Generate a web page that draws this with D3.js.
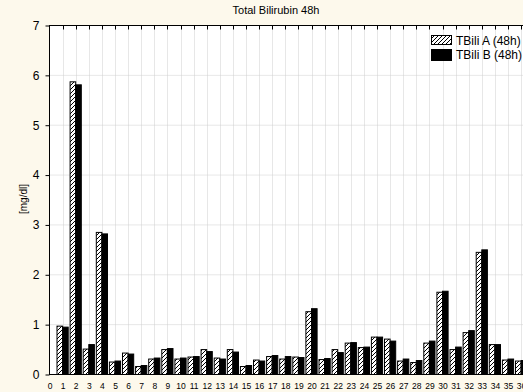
<!DOCTYPE html>
<html>
<head>
<meta charset="utf-8">
<script src="https://cdn.jsdelivr.net/npm/d3@7"></script>
<style>
  body { margin: 0; background: #fdf9ec; overflow: hidden; }
  text { font-family: "Liberation Sans", Arial, sans-serif; }
</style>
</head>
<body>
<div id="chart"></div>
<script>
// datos
const categorias = d3.range(1, 37);
const tbiliA = [0.97, 5.87, 0.51, 2.85, 0.25, 0.43, 0.16, 0.31, 0.50, 0.31,
  0.35, 0.50, 0.33, 0.50, 0.16, 0.29, 0.36, 0.31, 0.35, 1.26,
  0.30, 0.50, 0.63, 0.54, 0.75, 0.71, 0.27, 0.24, 0.63, 1.65,
  0.50, 0.84, 2.45, 0.60, 0.29, 0.27];
const tbiliB = [0.95, 5.81, 0.60, 2.82, 0.27, 0.41, 0.18, 0.33, 0.52, 0.33,
  0.36, 0.46, 0.31, 0.45, 0.18, 0.27, 0.38, 0.36, 0.34, 1.32,
  0.32, 0.44, 0.64, 0.55, 0.75, 0.67, 0.31, 0.28, 0.67, 1.67,
  0.55, 0.88, 2.50, 0.60, 0.31, 0.28];
const yTicks = d3.range(0, 8);
const xTicks = d3.range(0, 37);
const series = ["TBili A (48h)", "TBili B (48h)"];

const W = 523, H = 392;
const margin = { top: 25, left: 49.5, bottom: 17 };
const paso = 13.1;
const plotRight = margin.left + 37 * paso;

const svg = d3.select("#chart").append("svg")
  .attr("width", W).attr("height", H);

// rayado para la serie A
const defs = svg.append("defs");
defs.append("pattern")
  .attr("id", "hatch")
  .attr("patternUnits", "userSpaceOnUse")
  .attr("width", 4).attr("height", 4)
  .call(p => p.append("rect").attr("width", 4).attr("height", 4).attr("fill", "#fff"))
  .append("path")
  .attr("d", "M-1,1 l2,-2 M0,4 l4,-4 M3,5 l2,-2")
  .attr("stroke", "#000").attr("stroke-width", 1);

const x = d3.scaleLinear().domain([0, 37]).range([margin.left, plotRight]);
const y = d3.scaleLinear().domain([0, 7]).range([H - margin.bottom - 0.5, margin.top + 0.5]);

// area blanca del grafico
svg.append("rect")
  .attr("x", x(0)).attr("y", y(7))
  .attr("width", x(37) - x(0)).attr("height", y(0) - y(7))
  .attr("fill", "#fff");

// rejilla
svg.append("g").selectAll("line").data(xTicks.slice(1).concat([37]))
  .join("line")
  .attr("x1", d => Math.round(x(d)) + 0.5).attr("x2", d => Math.round(x(d)) + 0.5)
  .attr("y1", y(7)).attr("y2", y(0))
  .attr("stroke", "#cfcfcf").attr("stroke-dasharray", "1,1");
svg.append("g").selectAll("line").data(yTicks.slice(1, 7))
  .join("line")
  .attr("x1", x(0)).attr("x2", x(37))
  .attr("y1", d => y(d)).attr("y2", d => y(d))
  .attr("stroke", "#cfcfcf").attr("stroke-dasharray", "1,1");

// barras
const barW = 5.6;
const gBar = svg.append("g");
gBar.selectAll(".a").data(categorias)
  .join("rect").attr("class", "a")
  .attr("x", d => x(d) - barW).attr("width", barW)
  .attr("y", (d, i) => y(tbiliA[i])).attr("height", (d, i) => y(0) - y(tbiliA[i]))
  .attr("fill", "url(#hatch)").attr("stroke", "#000").attr("stroke-width", 1);
gBar.selectAll(".b").data(categorias)
  .join("rect").attr("class", "b")
  .attr("x", d => x(d)).attr("width", barW)
  .attr("y", (d, i) => y(tbiliB[i])).attr("height", (d, i) => y(0) - y(tbiliB[i]))
  .attr("fill", "#000").attr("stroke", "#000").attr("stroke-width", 1);

// marco
svg.append("rect")
  .attr("x", x(0)).attr("y", y(7))
  .attr("width", x(37) - x(0)).attr("height", y(0) - y(7))
  .attr("fill", "none").attr("stroke", "#000");

// ticks arriba
svg.append("g").selectAll("line").data(xTicks.slice(1))
  .join("line")
  .attr("x1", d => Math.round(x(d)) + 0.5).attr("x2", d => Math.round(x(d)) + 0.5)
  .attr("y1", y(7)).attr("y2", y(7) + 4)
  .attr("stroke", "#000");

// eje y
const yAxis = svg.append("g")
  .attr("transform", `translate(${x(0)},0)`)
  .call(d3.axisLeft(y).tickValues(yTicks).tickSize(4).tickPadding(6).tickFormat(d3.format("d")));
yAxis.select(".domain").remove();
yAxis.selectAll("text").attr("font-size", 12).attr("fill", "#000");

// eje x, solo etiquetas
const xAxis = svg.append("g")
  .attr("transform", `translate(0,${y(0)})`)
  .call(d3.axisBottom(x).tickValues(xTicks).tickSize(0).tickPadding(8).tickFormat(d3.format("d")));
xAxis.select(".domain").remove();
xAxis.selectAll("text").attr("font-size", 8.5).attr("fill", "#000");

// titulos
svg.append("text")
  .attr("x", 276).attr("y", 14)
  .attr("text-anchor", "middle").attr("font-size", 11)
  .text("Total Bilirubin 48h");
svg.append("text")
  .attr("transform", "translate(27,199) rotate(-90)")
  .attr("text-anchor", "middle").attr("font-size", 10)
  .text("[mg/dl]");

// leyenda
const leg = svg.append("g").attr("transform", "translate(431,35)");
series.forEach((s, i) => {
  const row = leg.append("g").attr("transform", `translate(0,${i * 14})`);
  row.append("rect")
    .attr("x", 0.5).attr("y", 0.5).attr("width", 20).attr("height", i === 0 ? 9 : 11)
    .attr("fill", i === 0 ? "url(#hatch)" : "#000").attr("stroke", "#000");
  row.append("text")
    .attr("x", 25).attr("y", 10)
    .attr("font-size", 12)
    .text(s);
});
</script>
</body>
</html>
